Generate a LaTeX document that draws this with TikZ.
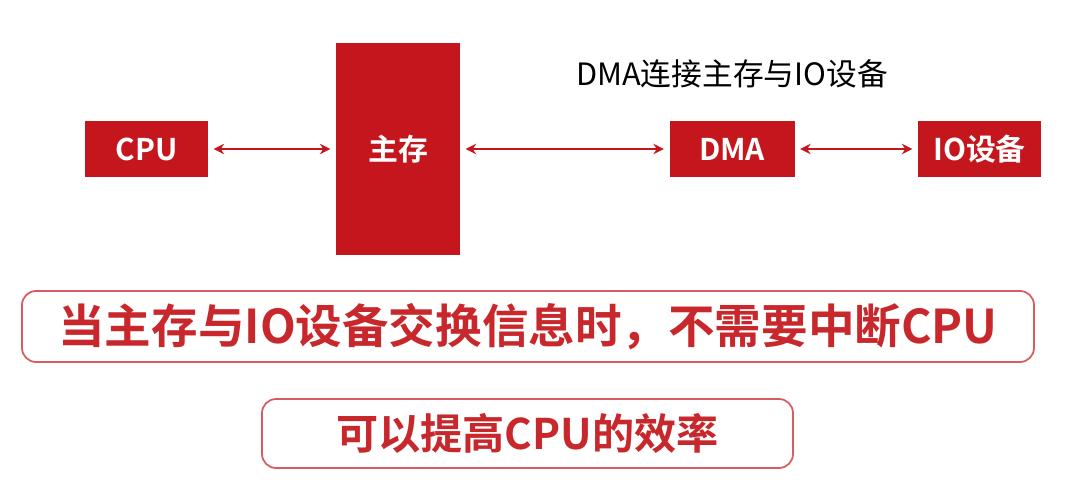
\documentclass[tikz,border=0pt]{standalone}
\usepackage{fontspec}
\newfontfamily\cjk{Noto Sans CJK SC}
\newfontfamily\cjkb{Noto Sans CJK SC}[BoldFont={* Bold}]
\usetikzlibrary{arrows.meta}
\definecolor{dred}{HTML}{C4161C}
\definecolor{tred}{HTML}{C8282C}
\begin{document}
\begin{tikzpicture}[x=0.02cm,y=-0.02cm,
  blk/.style={draw=none,fill=dred,text=white,font=\cjkb\bfseries\fontsize{17}{17}\selectfont,inner sep=0},
  lnk/.style={draw=dred,line width=1pt,{Stealth[length=6pt,width=6pt]}-{Stealth[length=6pt,width=6pt]}},
  pill/.style={draw=dred!70,line width=1pt,rounded corners=8pt,text=tred,font=\cjkb\bfseries,inner sep=0}]
\useasboundingbox (0,0) rectangle (1080,480);
\node[blk,minimum width=123*0.02cm,minimum height=56*0.02cm] (cpu) at (146.5,149) {CPU};
\node[blk,minimum width=124*0.02cm,minimum height=212*0.02cm] (mem) at (398,149) {主存};
\node[blk,minimum width=125*0.02cm,minimum height=56*0.02cm] (dma) at (732,149) {DMA};
\node[blk,minimum width=123*0.02cm,minimum height=56*0.02cm] (io) at (979.5,149) {IO设备};
\node[font=\cjk\fontsize{17.5}{17.5}\selectfont] (lbl) at (732,74) {DMA连接主存与IO设备};
\draw[lnk] ([xshift=3pt]cpu.east) -- ([xshift=-3pt]mem.west);
\draw[lnk] ([xshift=3pt]mem.east) -- ([xshift=-3pt]dma.west);
\draw[lnk] ([xshift=3pt]dma.east) -- ([xshift=-3pt]io.west);
\node[pill,minimum width=1012*0.02cm,minimum height=71*0.02cm,font=\cjkb\bfseries\fontsize{26.5}{26.5}\selectfont] (b1) at (528,326.5) {当主存与IO设备交换信息时，不需要中断CPU};
\node[pill,minimum width=531*0.02cm,minimum height=69*0.02cm,font=\cjkb\bfseries\fontsize{24}{24}\selectfont] (b2) at (527.5,433.5) {可以提高CPU的效率};
\end{tikzpicture}
\end{document}
